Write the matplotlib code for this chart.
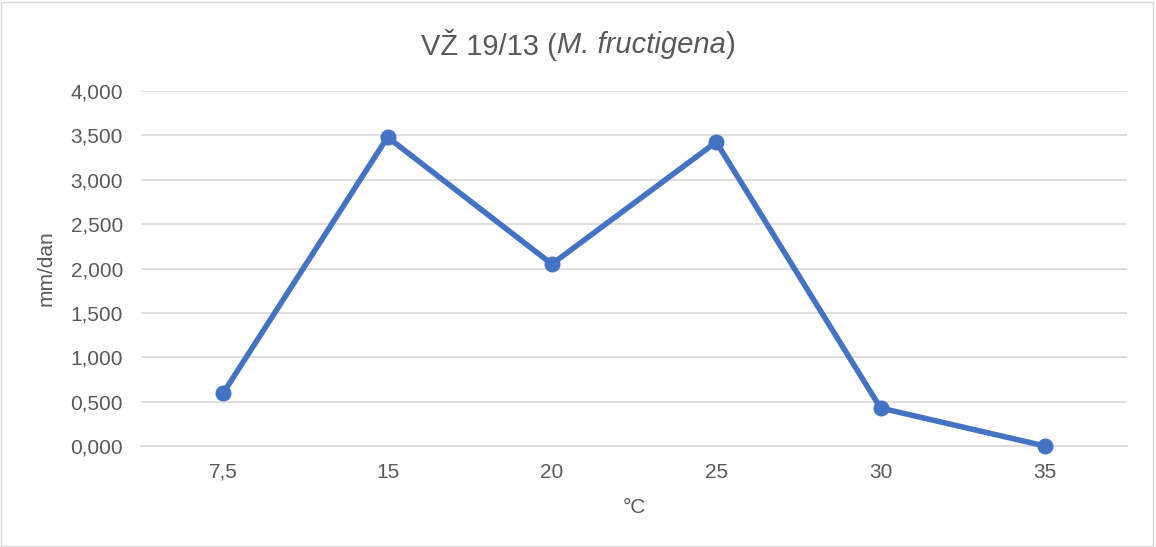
import matplotlib.pyplot as plt
from matplotlib.patches import Rectangle
from matplotlib.ticker import FuncFormatter, MultipleLocator

# -----------------------
# Data
# -----------------------
temps = ["7,5", "15", "20", "25", "30", "35"]
growth = [0.597, 3.48, 2.05, 3.425, 0.428, 0.0]

# -----------------------
# Style
# -----------------------
plt.rcParams['font.family'] = ['Liberation Sans', 'DejaVu Sans']
LINE_COLOR = "#4472C4"
TEXT_COLOR = "#595959"
GRID_COLOR = "#D9D9D9"
TICK_SIZE = 15
TITLE_SIZE = 21

fig = plt.figure(figsize=(11.56, 5.47), dpi=100)
ax = fig.add_axes([0.122, 0.1846, 0.853, 0.649])

x = range(len(temps))
ax.plot(x, growth, color=LINE_COLOR, lw=4.0, marker="o", markersize=10.5,
        solid_capstyle="round", zorder=3, clip_on=False)

ax.set_xlim(-0.5, len(temps) - 0.5)
ax.set_xticks(list(x))
ax.set_xticklabels(temps)
ax.set_ylim(0, 4.0)
ax.yaxis.set_major_locator(MultipleLocator(0.5))
ax.yaxis.set_major_formatter(FuncFormatter(lambda v, _: f"{v:,.3f}".replace(".", ",")))

ax.grid(axis="y", color=GRID_COLOR, lw=1.2)
ax.set_axisbelow(True)
for side in ["top", "right", "left"]:
    ax.spines[side].set_visible(False)
ax.spines["bottom"].set_color(GRID_COLOR)
ax.spines["bottom"].set_linewidth(1.2)
ax.tick_params(length=0, labelsize=TICK_SIZE, colors=TEXT_COLOR)
ax.tick_params(axis="x", pad=12)
ax.tick_params(axis="y", pad=13)

ax.set_xlabel("°C", fontsize=TICK_SIZE, color=TEXT_COLOR, labelpad=12)
ax.set_ylabel("mm/dan", fontsize=TICK_SIZE, color=TEXT_COLOR, labelpad=11)

ty = 0.918
t_left = fig.text(0.5, ty, "VŽ 19/13 (", fontsize=TITLE_SIZE, color=TEXT_COLOR,
                  ha="left", va="center")
t_mid = fig.text(0.5, ty, "M. fructigena", fontsize=TITLE_SIZE, color=TEXT_COLOR,
                 style="italic", ha="left", va="center")
close = fig.text(0.5, ty, ")", fontsize=TITLE_SIZE, color=TEXT_COLOR,
                 ha="left", va="center")

# title is assembled from three pieces; line them up centred on the figure
fig.canvas.draw()
renderer = fig.canvas.get_renderer()
widths = [t.get_window_extent(renderer).width for t in (t_left, t_mid, close)]
fig_w = fig.get_figwidth() * fig.dpi
pos = fig_w / 2 - sum(widths) / 2
for t, w in zip((t_left, t_mid, close), widths):
    t.set_x(pos / fig_w)
    pos += w

fig.patches.append(Rectangle((0.001, 0.002), 0.996, 0.994, transform=fig.transFigure,
                             fill=False, edgecolor=GRID_COLOR, lw=1.0))

fig.savefig("out.png", dpi=100, facecolor="white")
